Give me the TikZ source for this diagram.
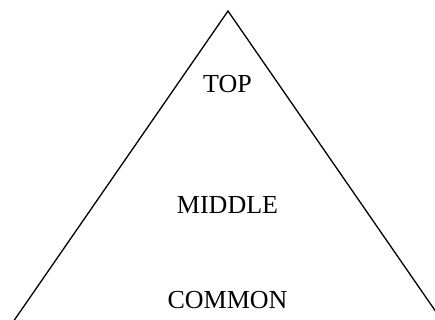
\documentclass[tikz,border=0pt]{standalone}
\usepackage{fontspec}
\setmainfont{Liberation Serif}
\begin{document}
\begin{tikzpicture}[x=1pt,y=-1pt,
  lbl/.style={anchor=base,inner sep=0pt,font=\fontsize{26}{30}\selectfont}]
\useasboundingbox (0,0) rectangle (435,320);
\coordinate (apex) at (228,11);
\coordinate (bl) at (13,322);
\coordinate (br) at (443,322);
\begin{scope}
\clip (0,0) rectangle (435,320);
\draw[line width=1.3pt, line join=miter] (bl) -- (apex) -- (br);
\end{scope}
\node[lbl] (top) at (227.5,92.5) {TOP};
\node[lbl] (middle) at (227.5,213) {MIDDLE};
\node[lbl] (common) at (227.5,308) {COMMON};
\end{tikzpicture}
\end{document}
